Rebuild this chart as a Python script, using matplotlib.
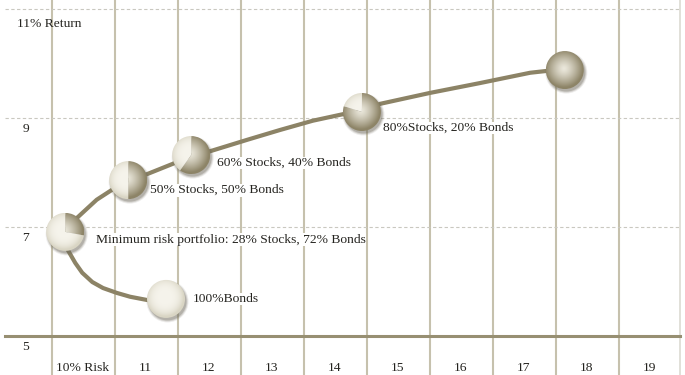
#!/usr/bin/env python3
"""Efficient frontier: stock/bond mixes, risk vs return, with pie markers."""

import numpy as np
import matplotlib
matplotlib.use("Agg")
import matplotlib.pyplot as plt
from matplotlib.patches import Wedge, Circle
from matplotlib.transforms import Affine2D
from matplotlib.colors import to_rgb


# ─────────────────────────────────────────────
# data
# ─────────────────────────────────────────────

port_risk = [9.71, 11.31, 10.71, 11.71, 14.42, 17.64]
port_return = [6.91, 5.68, 7.86, 8.32, 9.11, 9.88]
port_stocks = [28, 0, 50, 60, 80, 100]
port_labels = ["Minimum risk portfolio: 28% Stocks, 72% Bonds",
               "100%Bonds",
               "50% Stocks, 50% Bonds",
               "60% Stocks, 40% Bonds",
               "80%Stocks, 20% Bonds",
               ""]

# frontier curve
curve_risk = [11.31, 11.01, 10.74, 10.53, 10.31, 10.14, 9.98, 9.87,
              9.75, 9.71, 9.90, 10.05, 10.21, 10.45, 10.71, 11.01,
              11.42, 11.71, 12.01, 12.60, 13.12, 13.64, 14.12, 14.42,
              14.71, 15.50, 16.29, 17.09, 17.64]
curve_return = [5.64, 5.66, 5.72, 5.79, 5.88, 5.99, 6.16, 6.34,
                6.58, 6.91, 7.17, 7.33, 7.50, 7.68, 7.86, 7.97,
                8.16, 8.32, 8.39, 8.60, 8.78, 8.95, 9.07, 9.13,
                9.26, 9.46, 9.64, 9.83, 9.90]

x_ticks = list(range(10, 20))
x_ticklabels = ["10% Risk", "11", "12", "13", "14", "15", "16", "17", "18", "19"]
y_ticks = [11, 9, 7, 5]
y_ticklabels = ["11% Return", "9", "7", "5"]


# ─────────────────────────────────────────────
# styling
# ─────────────────────────────────────────────

W, H, DPI = 685, 375, 100
XLIM = (8.675, 19.548)
YLIM = (4.284, 11.165)
PX_X = W / (XLIM[1] - XLIM[0])   # pixels per unit of risk
PX_Y = H / (YLIM[1] - YLIM[0])   # pixels per unit of return
R_PX = 19.0                      # pie radius, pixels
PT = 72.0 / DPI                  # pixel -> point

LINE_C = "#8c8366"
GRID_C = "#c6c1ad"
TEXT_C = "#24231f"
DARK_IN, DARK_OUT = "#ebe8dc", "#8d8467"
LIGHT_IN, LIGHT_OUT = "#f6f4ec", "#d9d5c4"

# label offsets from pie centre, pixels (right, down)
label_off = [(31, 8), (27, 0), (22, 10), (26, 8), (21, 16), (0, 0)]

plt.rcParams["font.family"] = ["Liberation Serif", "DejaVu Serif"]


def radial(c_in, c_out, power, n=80):
    u, v = np.meshgrid(np.linspace(-1, 1, n), np.linspace(-1, 1, n))
    r = np.clip(np.sqrt((u + 0.05)**2 + (v - 0.08)**2), 0, 1)
    t = (r**power)[..., None]
    a, b = np.array(to_rgb(c_in)), np.array(to_rgb(c_out))
    return a * (1 - t) + b * t


def draw_pie(ax, x, y, stocks):
    rx, ry = R_PX / PX_X, R_PX / PX_Y
    # soft drop shadow
    for grow, alpha in [(2.0, 0.12), (1.0, 0.22), (0.0, 0.3)]:
        tr = Affine2D().scale(rx, ry).translate(x + 1.5 / PX_X, y - 2.5 / PX_Y) + ax.transData
        ax.add_patch(Circle((0, 0), 1 + grow / R_PX, transform=tr,
                            fc="#6e6a5c", ec="none", alpha=alpha, zorder=3))
    tr = Affine2D().scale(rx, ry).translate(x, y) + ax.transData
    ext = [x - rx, x + rx, y - ry, y + ry]
    ang = 3.6 * stocks
    parts = []
    if stocks > 0:
        parts.append((90 - ang, 90, radial(DARK_IN, DARK_OUT, 1.3)))
    if stocks < 100:
        parts.append((90, 450 - ang, radial(LIGHT_IN, LIGHT_OUT, 3.5)))
    for t1, t2, img in parts:
        w = Wedge((0, 0), 1, t1, t2, transform=tr, fc="none", ec="none", zorder=4)
        ax.add_patch(w)
        im = ax.imshow(img, extent=ext, origin="lower", interpolation="bilinear",
                       aspect="auto", zorder=4)
        im.set_clip_path(w)


def run():
    fig = plt.figure(figsize=(W / DPI, H / DPI), dpi=DPI)
    ax = fig.add_axes([0, 0, 1, 1])
    ax.set_axis_off()

    # grid: category boundaries + dashed return levels
    for xb in np.arange(9.5, 19.0, 1.0):
        ax.axvline(xb, color=GRID_C, lw=1.5, zorder=1)
    ax.axvline(19.47, color="#dcdad2", lw=1.2, zorder=1)
    for yv in y_ticks[:-1]:
        ax.axhline(yv, xmin=5 / W, xmax=681 / W, color="#c9c8c0", lw=0.8,
                   dashes=(3.0, 2.2), zorder=1)
    ax.axhline(y_ticks[-1], xmin=5 / W, xmax=680 / W, color="#978f72", lw=2.2, zorder=2)

    # frontier
    ax.plot(curve_risk, curve_return, color=LINE_C, lw=3.0,
            solid_capstyle="round", solid_joinstyle="round", zorder=2)

    for x, y, s in zip(port_risk, port_return, port_stocks):
        draw_pie(ax, x, y, s)

    for x, y, lab, (dx, dy) in zip(port_risk, port_return, port_labels, label_off):
        if not lab:
            continue
        ax.annotate(lab, (x, y), xytext=(dx * PT, -dy * PT), textcoords="offset points",
                    ha="left", va="center", fontsize=9.7, color=TEXT_C, zorder=5,
                    bbox=dict(fc="white", ec="none", pad=0.3))

    # axis labels drawn inside the plot area
    for yv, lab in zip(y_ticks, y_ticklabels):
        if "Return" in lab:
            ax.annotate(lab, (0, yv), xycoords=("axes fraction", "data"),
                        xytext=(17 * PT, -15 * PT), textcoords="offset points",
                        ha="left", va="center", fontsize=9.7, color=TEXT_C)
        else:
            ax.annotate(lab, (0, yv), xycoords=("axes fraction", "data"),
                        xytext=(26 * PT, -11 * PT), textcoords="offset points",
                        ha="center", va="center", fontsize=9.7, color=TEXT_C)
    for xv, lab in zip(x_ticks, x_ticklabels):
        ax.annotate(lab, (xv, 0), xycoords=("data", "axes fraction"),
                    xytext=(-1 * PT, 7 * PT), textcoords="offset points",
                    ha="center", va="center", fontsize=9.7, color=TEXT_C)

    ax.set_xlim(*XLIM)
    ax.set_ylim(*YLIM)
    fig.savefig("out.png", dpi=DPI, facecolor="white")


if __name__ == "__main__":
    run()
